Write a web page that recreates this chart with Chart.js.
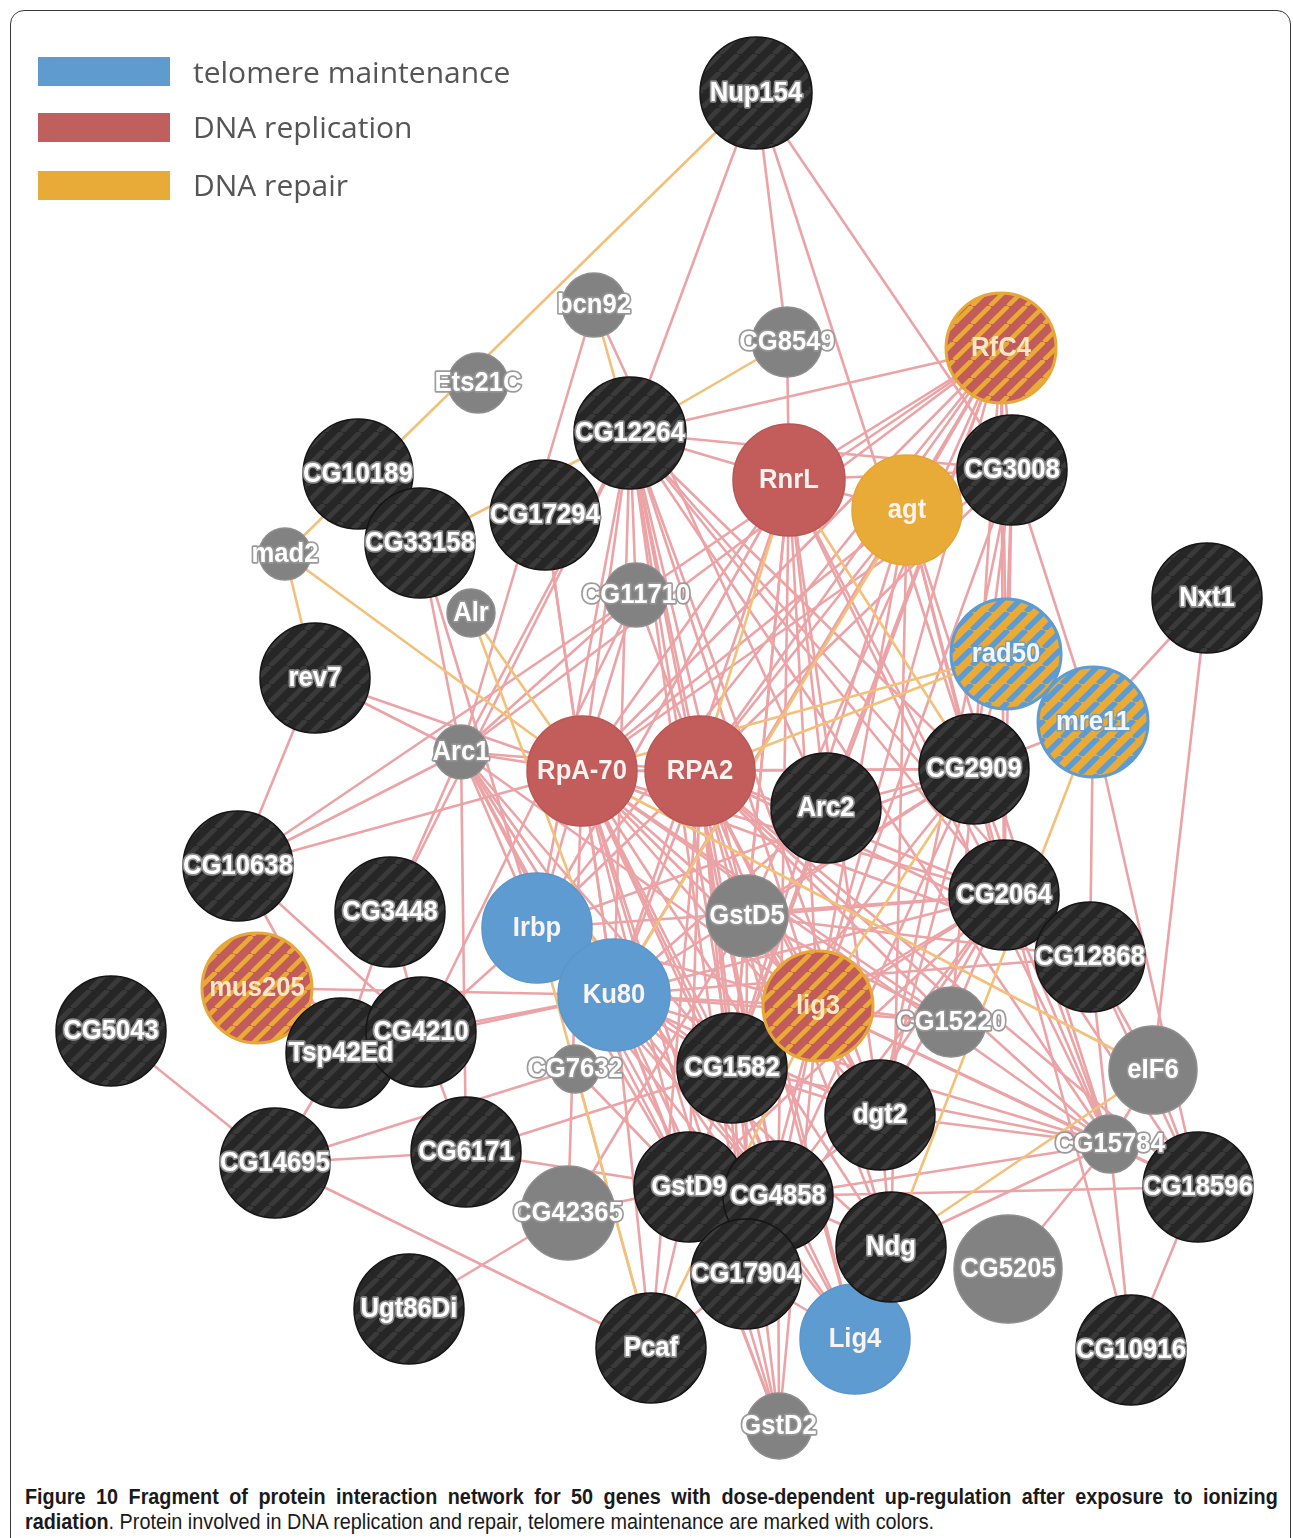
<!DOCTYPE html>
<html><head><meta charset="utf-8">
<script src="https://cdn.jsdelivr.net/npm/chart.js@4.4.1/dist/chart.umd.min.js"></script>
<style>
html,body{margin:0;padding:0;background:#fff;}
body{width:1293px;height:1538px;position:relative;overflow:hidden;}
#frame{position:absolute;left:10px;top:10px;width:1281px;height:1600px;border:1.5px solid #3a3a3a;border-radius:14px;box-sizing:border-box;}
#wrap{position:absolute;left:0;top:0;width:1293px;height:1470px;}
.leg{position:absolute;left:38px;width:132px;height:29px;}
.legt{position:absolute;left:193px;font-family:"Open Sans",sans-serif;font-size:30px;color:#555;line-height:30px;white-space:nowrap;}
#cap{position:absolute;left:25px;top:1484px;width:1392px;transform:scaleX(0.9);transform-origin:0 0;font-family:"Liberation Sans",Arial,sans-serif;font-size:22px;line-height:25px;color:#1a1a1a;}
#cap .l1{font-weight:bold;text-align:justify;text-align-last:justify;white-space:nowrap;}
#cap .l2{white-space:nowrap;}
</style></head>
<body>
<div id="frame"></div>
<div id="wrap"><canvas id="c" width="1293" height="1470"></canvas></div>
<div class="leg" style="top:57px;background:#5F9BCF"></div>
<div class="leg" style="top:113px;background:#C0605E"></div>
<div class="leg" style="top:171px;background:#E9AB38"></div>
<div class="legt" style="top:57px">telomere maintenance</div>
<div class="legt" style="top:112px">DNA replication</div>
<div class="legt" style="top:170px">DNA repair</div>
<div id="cap"><div class="l1">Figure 10 Fragment of protein interaction network for 50 genes with dose-dependent up-regulation after exposure to ionizing</div><div class="l2"><b>radiation</b>. Protein involved in DNA replication and repair, telomere maintenance are marked with colors.</div></div>
<script>
// ---- data ----
const nodeNames = ['Nup154','bcn92','CG8549','RfC4','Ets21C','CG12264','CG10189','RnrL','CG3008','agt','CG17294','CG33158','mad2','CG11710','Alr','Nxt1','rad50','rev7','mre11','Arc1','RpA-70','RPA2','CG2909','Arc2','CG10638','CG3448','Irbp','GstD5','CG2064','CG12868','mus205','Ku80','CG1582','lig3','CG15220','CG5043','Tsp42Ed','CG4210','CG7632','eIF6','dgt2','CG15784','CG14695','CG6171','CG42365','GstD9','CG4858','CG18596','CG17904','Lig4','Ndg','CG5205','Ugt86Di','Pcaf','CG10916','GstD2'];
const nodeX = [756,594,787,1001,478,630,358,789,1012,907,545,420,285,636,471,1207,1006,315,1093,461,582,700,974,826,238,390,537,747,1004,1090,257,614,732,818,951,111,341,421,575,1153,880,1110,275,466,568,689,778,1198,746,855,891,1008,409,651,1131,779];
const nodeY = [93,305,342,348,383,433,474,480,470,510,515,543,554,595,613,598,654,678,722,752,771,771,769,808,866,912,928,916,895,957,988,995,1068,1006,1022,1031,1053,1032,1069,1070,1115,1144,1163,1152,1213,1187,1196,1187,1274,1339,1247,1269,1309,1348,1350,1426];
const nodeR = [56,32,35,55,30,56,55,56,55,55,55,55,26,32,24,55,55,55,55,27,55,55,55,55,55,55,55,41,55,55,55,56,55,55,35,55,55,55,24,44,55,29,55,55,47,55,55,55,55,55,55,54,55,55,55,33];
const nodeGroup = ['black','gray','gray','ry','gray','black','black','red','black','yellow','black','black','gray','gray','gray','black','by','black','by','gray','red','red','black','black','black','black','blue','gray','black','black','ry','blue','black','ry','gray','black','black','black','gray','gray','black','gray','black','black','gray','black','black','black','black','blue','black','gray','black','black','black','gray'];
const legendLabels = ['telomere maintenance','DNA replication','DNA repair'];

const pinkEdges = [
['Nup154','CG12264'],['Nup154','CG8549'],['Nup154','CG2909'],['Nup154','CG3008'],['CG8549','RnrL'],['bcn92','Arc1'],['bcn92','Arc2'],
['CG12264','RnrL'],['CG12264','CG3008'],['CG12264','RpA-70'],['CG12264','RPA2'],['CG12264','Irbp'],['CG12264','Ku80'],['CG12264','GstD5'],['CG12264','CG1582'],['CG12264','CG2064'],['CG12264','CG12868'],['CG12264','CG15784'],['CG12264','lig3'],['CG12264','CG2909'],['CG12264','CG4858'],['CG12264','CG17904'],['CG12264','CG3448'],['CG12264','Arc1'],['CG12264','CG11710'],['CG12264','dgt2'],
['CG33158','Irbp'],['CG17294','RpA-70'],['CG17294','Ku80'],['CG11710','Arc1'],['CG11710','RpA-70'],['CG11710','RPA2'],['CG11710','CG4210'],
['RfC4','CG10638'],['RfC4','CG12264'],['RfC4','RnrL'],['RfC4','agt'],['RfC4','CG3008'],['RfC4','rad50'],['RfC4','CG2909'],['RfC4','CG2064'],['RfC4','RpA-70'],['RfC4','RPA2'],['RfC4','Irbp'],['RfC4','Ku80'],['RfC4','lig3'],['RfC4','CG1582'],['RfC4','Arc2'],['RfC4','GstD5'],['RfC4','Arc1'],
['rev7','Arc1'],['rev7','RpA-70'],['rev7','CG10638'],
['Arc1','CG10638'],['Arc1','CG3448'],['Arc1','CG6171'],['Arc1','RpA-70'],['Arc1','RPA2'],['Arc1','Irbp'],['Arc1','Ku80'],['Arc1','CG1582'],['Arc1','GstD9'],['Arc1','CG17904'],['Arc1','CG4858'],['Arc1','lig3'],['Arc1','CG33158'],
['CG10638','RpA-70'],['CG10638','Tsp42Ed'],['CG10638','CG4210'],['CG3448','Tsp42Ed'],['CG3448','CG4210'],['mus205','Ku80'],['mus205','CG4210'],
['CG4210','Ku80'],['CG4210','CG6171'],['CG4210','Irbp'],['Tsp42Ed','Ku80'],['Tsp42Ed','CG14695'],['CG5043','CG14695'],
['CG14695','CG6171'],['CG14695','CG7632'],['CG14695','Pcaf'],['Ugt86Di','CG42365'],['CG6171','GstD9'],['CG6171','CG1582'],
['RpA-70','RnrL'],['RpA-70','agt'],['RpA-70','CG3008'],['RpA-70','CG2909'],['RpA-70','CG2064'],['RpA-70','CG12868'],['RpA-70','Irbp'],['RpA-70','Ku80'],['RpA-70','GstD5'],['RpA-70','lig3'],['RpA-70','CG1582'],['RpA-70','GstD9'],['RpA-70','CG4858'],['RpA-70','CG17904'],['RpA-70','Lig4'],['RpA-70','GstD2'],['RpA-70','CG15784'],['RpA-70','Ndg'],['RpA-70','dgt2'],['RpA-70','CG15220'],['RpA-70','RPA2'],['RpA-70','CG42365'],
['RPA2','agt'],['RPA2','CG3008'],['RPA2','CG2909'],['RPA2','CG2064'],['RPA2','CG12868'],['RPA2','Irbp'],['RPA2','Ku80'],['RPA2','GstD5'],['RPA2','lig3'],['RPA2','CG1582'],['RPA2','GstD9'],['RPA2','CG4858'],['RPA2','CG17904'],['RPA2','Lig4'],['RPA2','GstD2'],['RPA2','CG15784'],['RPA2','Ndg'],['RPA2','dgt2'],['RPA2','CG15220'],['RPA2','Pcaf'],['RPA2','CG18596'],
['RnrL','CG3008'],['RnrL','agt'],['RnrL','Irbp'],['RnrL','Ku80'],['RnrL','GstD5'],['RnrL','lig3'],['RnrL','CG1582'],['RnrL','CG2064'],['RnrL','dgt2'],['RnrL','CG15784'],['RnrL','CG4858'],['RnrL','Arc2'],
['agt','CG3008'],['agt','CG2909'],['agt','CG15784'],['agt','lig3'],['agt','CG1582'],['agt','Ndg'],['agt','CG2064'],
['CG3008','rad50'],['CG3008','mre11'],['CG3008','CG2909'],['CG3008','CG2064'],['CG3008','dgt2'],['CG3008','lig3'],['rad50','CG2909'],
['mre11','Nxt1'],['mre11','CG2909'],['mre11','CG18596'],['mre11','CG12868'],['Nxt1','eIF6'],
['CG2909','GstD5'],['CG2909','Ku80'],['CG2909','Irbp'],['CG2909','CG1582'],['CG2909','dgt2'],['CG2909','CG15784'],['CG2909','CG4858'],['CG2909','CG15220'],['CG2909','Arc2'],['CG2909','CG10916'],
['Arc2','Ku80'],['Arc2','GstD9'],
['CG2064','CG12868'],['CG2064','lig3'],['CG2064','Ku80'],['CG2064','GstD5'],['CG2064','CG1582'],['CG2064','dgt2'],['CG2064','CG15784'],['CG2064','CG15220'],['CG2064','CG18596'],['CG2064','Irbp'],['CG2064','CG4858'],['CG2064','CG17904'],['CG2064','GstD9'],
['CG12868','eIF6'],['CG12868','CG15784'],['CG12868','CG18596'],['CG12868','Ku80'],['CG12868','GstD5'],
['GstD5','lig3'],['GstD5','CG1582'],['GstD5','dgt2'],['GstD5','CG15220'],['GstD5','Lig4'],['GstD5','CG17904'],['GstD5','CG42365'],
['Irbp','GstD9'],['Irbp','CG4858'],['Irbp','CG1582'],['Irbp','Lig4'],['Irbp','lig3'],
['Ku80','CG1582'],['Ku80','lig3'],['Ku80','GstD9'],['Ku80','CG4858'],['Ku80','CG17904'],['Ku80','Lig4'],['Ku80','Pcaf'],['Ku80','GstD2'],['Ku80','CG15220'],['Ku80','dgt2'],['Ku80','Ndg'],['Ku80','CG15784'],
['lig3','CG15220'],['lig3','CG15784'],['lig3','Ndg'],['lig3','dgt2'],['lig3','CG4858'],['lig3','CG17904'],['lig3','GstD2'],['lig3','CG1582'],['lig3','CG18596'],
['CG1582','GstD9'],['CG1582','CG4858'],['CG1582','CG17904'],['CG1582','dgt2'],['CG1582','CG15784'],
['dgt2','CG15784'],['dgt2','Ndg'],['dgt2','CG4858'],
['CG4858','CG18596'],['CG4858','Ndg'],['CG4858','Lig4'],['CG4858','GstD2'],['CG4858','CG15784'],
['GstD9','GstD2'],['GstD9','Pcaf'],['GstD9','CG42365'],['CG17904','Pcaf'],['CG17904','GstD2'],['CG17904','Lig4'],
['Ndg','CG15784'],['Ndg','Lig4'],['CG15784','CG10916'],['CG15784','CG18596'],['CG15784','CG5205'],['CG15784','eIF6'],
['CG18596','CG10916'],['CG18596','eIF6'],['CG7632','GstD9']
];
const orangeEdges = [
['mad2','Nup154'],['mad2','rev7'],['mad2','RpA-70'],['CG33158','CG12264'],['bcn92','CG12264'],['CG8549','CG12264'],
['Alr','Ku80'],['Alr','RpA-70'],['rad50','RPA2'],['rad50','mre11'],['mre11','Lig4'],['eIF6','Ndg'],['RpA-70','eIF6'],
['Irbp','Pcaf'],['CG7632','Pcaf'],['Pcaf','lig3'],['RnrL','RPA2'],['RnrL','CG2909'],['CG2909','lig3'],['agt','Ku80'],['rad50','RpA-70']
];

// ---- styles ----
const PINK = '#EBA3A6', ORANGE = '#F3C07A';
const idx = n => nodeNames.indexOf(n);
function stripe(bg, fg, P, w) {
  const c = document.createElement('canvas'); c.width = P; c.height = P;
  const g = c.getContext('2d');
  g.fillStyle = bg; g.fillRect(0, 0, P, P);
  g.strokeStyle = fg; g.lineWidth = w; g.beginPath();
  for (let k = -1; k <= 1; k++) { g.moveTo(k * P, P); g.lineTo(k * P + P, 0); }
  g.stroke();
  return g.createPattern(c, 'repeat');
}
const fills = {
  black: stripe('#262626', '#3a3a3a', 18, 5),
  gray: '#828282',
  red: '#C25D5B',
  yellow: '#E9AB38',
  blue: '#5E9BD0',
  ry: stripe('#C25B5B', '#EAAA36', 18, 4.5),
  by: stripe('#EAAA36', '#5D9BD2', 18, 5.5)
};
const borders = { black:'#151515', gray:'#8e8e8e', red:'#b85856', yellow:'#e4a533', blue:'#5a97cc', ry:'#E8A838', by:'#5D9BD2' };
const borderW = { black:1.5, gray:1.5, red:1.5, yellow:1.5, blue:1.5, ry:3, by:3 };

const seen = new Set();
const edgeSets = [];
orangeEdges.forEach(e => { const k=[e[0],e[1]].sort().join('|'); if(!seen.has(k)){seen.add(k); edgeSets.push([e, ORANGE, 1]);} });
pinkEdges.forEach(e => { const k=[e[0],e[1]].sort().join('|'); if(!seen.has(k)){seen.add(k); edgeSets.push([e, PINK, 2]);} });

const datasets = [{
  type: 'bubble', order: 0,
  data: nodeNames.map((n, i) => ({ x: nodeX[i], y: nodeY[i], r: nodeR[i] })),
  backgroundColor: ctx => fills[nodeGroup[ctx.dataIndex]],
  borderColor: ctx => borders[nodeGroup[ctx.dataIndex]],
  borderWidth: ctx => borderW[nodeGroup[ctx.dataIndex]],
  clip: false
}];
edgeSets.forEach(([e, col, ord]) => {
  const a = idx(e[0]), b = idx(e[1]);
  datasets.push({
    type: 'line', order: ord,
    data: [{ x: nodeX[a], y: nodeY[a] }, { x: nodeX[b], y: nodeY[b] }],
    borderColor: col, borderWidth: 2.6, pointRadius: 0, fill: false, tension: 0
  });
});

const labelPlugin = {
  id: 'nodeLabels',
  afterDatasetsDraw(chart) {
    const { ctx, scales } = chart;
    ctx.save();
    ctx.font = 'bold 27px "Liberation Sans", Arial, sans-serif';
    ctx.textAlign = 'center'; ctx.textBaseline = 'middle'; ctx.lineJoin = 'round';
    nodeNames.forEach((n, i) => {
      const px = scales.x.getPixelForValue(nodeX[i]);
      const py = scales.y.getPixelForValue(nodeY[i]);
      const g = nodeGroup[i];
      ctx.save(); ctx.translate(px, py + 1); ctx.scale(0.95, 1);
      if (g === 'black' || g === 'gray') {
        ctx.strokeStyle = 'rgba(150,150,150,0.95)'; ctx.lineWidth = 3.5; ctx.strokeText(n, 0, 0);
        ctx.fillStyle = '#ffffff';
      } else if (g === 'ry') {
        ctx.fillStyle = '#FBE7C4';
      } else if (g === 'by') {
        ctx.strokeStyle = 'rgba(93,155,210,0.8)'; ctx.lineWidth = 3; ctx.strokeText(n, 0, 0);
        ctx.fillStyle = '#F2F6FB';
      } else {
        ctx.fillStyle = '#FAF3F0';
      }
      ctx.fillText(n, 0, 0);
      ctx.restore();
    });
    ctx.restore();
  }
};

new Chart(document.getElementById('c'), {
  type: 'bubble',
  data: { datasets },
  options: {
    responsive: false, animation: false, devicePixelRatio: 1, events: [],
    layout: { padding: 0, autoPadding: false },
    scales: {
      x: { type: 'linear', min: 0, max: 1293, display: false },
      y: { type: 'linear', min: 0, max: 1470, reverse: true, display: false }
    },
    plugins: { legend: { display: false }, tooltip: { enabled: false } }
  },
  plugins: [labelPlugin]
});
</script>
</body></html>
